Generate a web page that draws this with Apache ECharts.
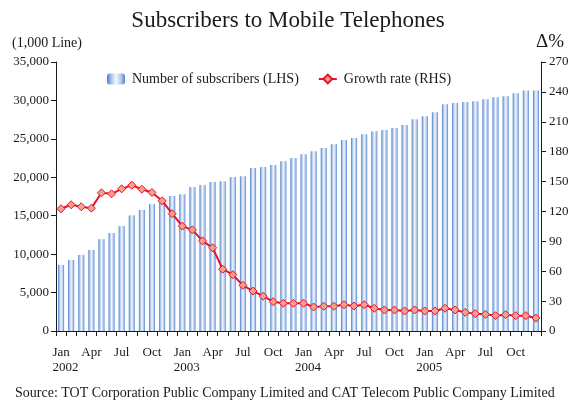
<!DOCTYPE html>
<html>
<head>
<meta charset="utf-8">
<script src="https://cdn.jsdelivr.net/npm/echarts@6/dist/echarts.min.js"></script>
<style>
  html, body { margin: 0; padding: 0; background: #fff; }
  #chart { width: 576px; height: 405px; }
</style>
</head>
<body>
<div id="chart"></div>
<script>
// Monthly categories, Jan 2002 – Dec 2005
const monthNames = ['Jan','Feb','Mar','Apr','May','Jun','Jul','Aug','Sep','Oct','Nov','Dec'];
const years = ['2002','2003','2004','2005'];
const categories = [];
years.forEach(y => monthNames.forEach(m => categories.push(m + ' ' + y)));

// Number of subscribers (thousand lines)
const subscribers = [
  8600, 9250, 9900, 10550, 11950, 12750, 13650, 15050, 15750, 16500, 17000, 17550,
  17800, 18750, 19000, 19400, 19500, 20050, 20150, 21200, 21350, 21600, 22100, 22500,
  23000, 23400, 23800, 24300, 24850, 25100, 25600, 26000, 26150, 26400, 26800, 27550,
  27950, 28450, 29500, 29650, 29800, 29900, 30150, 30400, 30550, 30950, 31300, 31300
];

// Growth rate, % year on year
const growthRate = [
  122.7, 126.7, 124.7, 123.3, 138.7, 137.7, 142.7, 146.3, 142.3, 139.0, 130.7, 117.7,
  105.3, 101.5, 90.5, 83.5, 62.0, 56.5, 45.8, 40.1, 34.9, 29.4, 27.8, 27.8,
  27.8, 24.1, 24.8, 24.8, 26.4, 25.1, 26.4, 22.8, 21.1, 21.1, 20.1, 21.1,
  20.1, 20.1, 22.8, 21.1, 18.7, 17.4, 16.7, 15.4, 16.4, 15.4, 15.4, 13.0
];

// Axis ticks
const leftTicks = { min: 0, max: 35000, interval: 5000 };
const rightTicks = { min: 0, max: 270, interval: 30 };

const serif = "'Liberation Serif', 'Times New Roman', serif";
const ink = '#1a1a1a';

const barFill = new echarts.graphic.LinearGradient(0, 0, 1, 0, [
  { offset: 0, color: '#4479c6' },
  { offset: 0.2, color: '#9fbbe6' },
  { offset: 0.5, color: '#f4f7fd' },
  { offset: 0.8, color: '#aec5ec' },
  { offset: 1, color: '#4a82cf' }
]);

const chart = echarts.init(document.getElementById('chart'), null, { renderer: 'canvas' });

chart.setOption({
  animation: false,
  backgroundColor: '#fff',
  textStyle: { fontFamily: serif, color: ink },
  title: {
    text: 'Subscribers to Mobile Telephones',
    left: 'center',
    top: 4,
    textStyle: { fontFamily: serif, fontSize: 23, fontWeight: 'normal', color: ink }
  },
  legend: {
    left: 102,
    top: 67,
    itemWidth: 18,
    itemHeight: 11,
    itemGap: 19,
    textStyle: { fontFamily: serif, fontSize: 14, color: ink, padding: [0, 0, 0, 2] },
    data: ['Number of subscribers (LHS)', 'Growth rate (RHS)']
  },
  grid: { left: 56, right: 35, top: 62, bottom: 74, containLabel: false },
  xAxis: {
    type: 'category',
    data: categories,
    boundaryGap: true,
    axisLine: { lineStyle: { color: ink, width: 1 } },
    axisTick: { show: true, interval: 0, length: 5, lineStyle: { color: ink } },
    axisLabel: {
      interval: (i) => i % 3 === 0,
      margin: 14,
      fontFamily: serif,
      fontSize: 13,
      color: ink,
      lineHeight: 15,
      formatter: (value) => {
        const parts = value.split(' ');
        return parts[0] === 'Jan' ? '{m|' + parts[0] + '}\n{y|' + parts[1] + '}' : '{m|' + parts[0] + '}';
      },
      rich: {
        m: { fontFamily: serif, fontSize: 13, color: ink, lineHeight: 15 },
        y: { fontFamily: serif, fontSize: 13, color: ink, lineHeight: 15, padding: [0, 0, 0, 9] }
      }
    },
    splitLine: { show: false }
  },
  yAxis: [
    {
      type: 'value',
      min: leftTicks.min, max: leftTicks.max, interval: leftTicks.interval,
      axisLine: { show: true, lineStyle: { color: ink } },
      axisTick: { show: true, length: 5, lineStyle: { color: ink } },
      axisLabel: {
        fontFamily: serif, fontSize: 13, color: ink, margin: 7,
        formatter: (v) => v.toLocaleString('en-US')
      },
      splitLine: { show: false }
    },
    {
      type: 'value',
      position: 'right',
      min: rightTicks.min, max: rightTicks.max, interval: rightTicks.interval,
      axisLine: { show: true, lineStyle: { color: ink } },
      axisTick: { show: true, length: 5, lineStyle: { color: ink } },
      axisLabel: { fontFamily: serif, fontSize: 13, color: ink, margin: 8 },
      splitLine: { show: false }
    }
  ],
  graphic: [
    {
      type: 'text', left: 12, top: 36,
      style: { text: '(1,000 Line)', font: '14px ' + serif, fill: ink }
    },
    {
      type: 'text', left: 536, top: 33,
      style: { text: 'Δ%', font: '19px ' + serif, fill: ink }
    },
    {
      type: 'text', left: 15, top: 386,
      style: { text: 'Source: TOT Corporation Public Company Limited and CAT Telecom Public Company Limited', font: '14px ' + serif, fill: ink }
    }
  ],
  series: [
    {
      name: 'Number of subscribers (LHS)',
      type: 'bar',
      yAxisIndex: 0,
      data: subscribers,
      barWidth: '60%',
      itemStyle: { color: barFill }
    },
    {
      name: 'Growth rate (RHS)',
      type: 'line',
      yAxisIndex: 1,
      data: growthRate,
      symbol: 'diamond',
      symbolSize: 8,
      showAllSymbol: true,
      lineStyle: { color: '#e8112d', width: 2 },
      itemStyle: { color: '#f6a08c', borderColor: '#e8112d', borderWidth: 1 },
      z: 3
    }
  ]
});
</script>
</body>
</html>
